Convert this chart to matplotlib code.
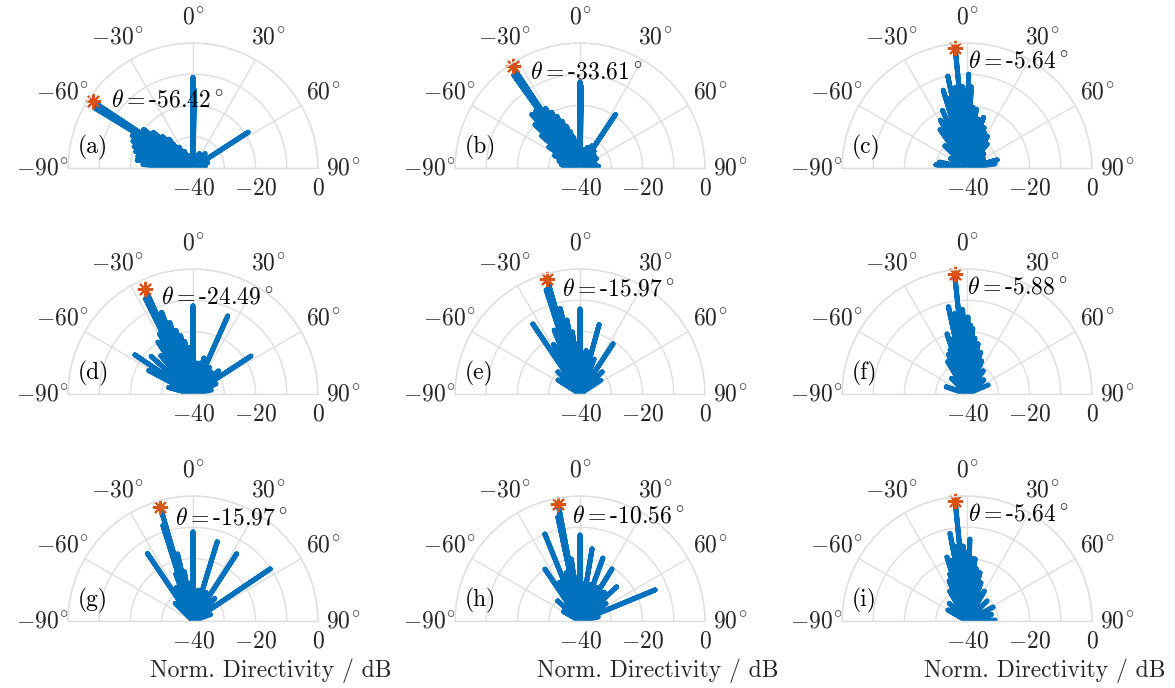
import matplotlib
matplotlib.use("Agg")
import matplotlib.pyplot as plt
import numpy as np

plt.rcParams["font.family"] = "serif"
plt.rcParams["font.serif"] = ["cmr10"]
plt.rcParams["mathtext.fontset"] = "cm"
plt.rcParams["axes.formatter.use_mathtext"] = True

# lobe directions (deg) and lobe peak levels (dB) per panel
angles_a = [-86, -82, -78, -74, -70, -66, -62, -58.5, -56.42, -52, -48, -44, -40, -34, -28, -20, -12, -4, 0, 1, 10, 24, 40, 57, 70, 84]
peaks_a = [-24, -22, -22, -21, -20, -19, -18, -3.5, -1.5, -20, -23, -26, -28, -32, -34, -36, -36, -37, -11, -15, -36, -35, -34, -19, -35, -36]

angles_b = [-88, -80, -72, -64, -56, -50, -46, -42, -38, -35.5, -33.61, -30, -27, -24, -21, -18, -15, -12, -8, -4, 0, 1, 6, 12, 20, 28, 33.5, 40, 50, 60, 72, 84]
peaks_b = [-35, -34, -33, -31, -28, -24, -20, -17, -17, -3.5, -1, -18, -20, -22, -24, -26, -28, -30, -33, -34, -12.5, -14, -34, -34, -33, -32, -19.5, -33, -34, -34, -35, -34]

angles_c = [-84, -78, -60, -45, -35, -29, -23, -17, -14, -11.8, -8, -5.64, -3, 1, 3, 5.6, 9, 13, 18, 23, 27, 33, 40, 50, 62, 75, 82]
peaks_c = [-30, -31, -34, -30, -25, -22.5, -20, -14, -17, -10, -14, -1.5, -14, -10, -14, -20.5, -21, -24, -23, -26, -27.5, -28, -30, -33, -34, -30, -31]

angles_d = [-75, -62, -56, -48, -40, -34, -29, -26.5, -24.49, -21, -18, -15, -12, -9, -6, -3, 0, 4, 10, 17, 24, 32, 40, 48, 56.8, 66, 78]
peaks_d = [-32, -24, -17.6, -22, -24, -20, -18, -6, -3, -12, -16, -19, -21, -23, -25, -27, -11.8, -30, -30, -28, -12.7, -30, -31, -29, -17.9, -32, -34]

angles_e = [-57.5, -45, -34, -28, -22, -18, -15.97, -13, -10, -7, -4, -2, 0, 4, 8, 15.4, 22, 33.4, 45, 57]
peaks_e = [-31.7, -30, -13, -22, -18, -5, -1.6, -12, -16, -20, -24, -27, -12.8, -28, -26, -17, -28, -20.8, -30, -32]

angles_f = [-71, -45, -30.7, -25, -21, -18.4, -15, -12, -9, -5.88, -3, 0.7, 3, 5, 8, 12.4, 18, 24, 35, 50, 67]
peaks_f = [-33, -33, -28, -26, -25, -19.8, -22, -11.5, -14, -1.5, -13, -15.4, -18, -19, -22, -23.6, -26, -28.5, -31, -33, -32.6]

angles_g = [-45, -34, -26, -20, -17.5, -15.97, -13, -10, -6, -3, 0, 4, 10, 17, 25, 33, 44, 56, 70]
peaks_g = [-32, -14, -28, -24, -8, -2.2, -18, -24, -28, -30, -11.5, -32, -30, -13.5, -30, -14.4, -30, -10.2, -34]

angles_h = [-60, -48, -34, -28, -22, -16, -12, -10.56, -8, -4, 0, 5, 9.5, 15, 20, 26, 31.6, 40, 47, 56, 67.5, 78]
peaks_h = [-34, -30.4, -20, -26, -10, -24, -6, -1.9, -20, -26, -12.5, -28, -16.6, -28, -18.6, -28, -20.5, -28, -24, -30, -14, -34]

angles_i = [-60, -45, -30, -24, -20, -17.4, -14, -11, -8, -5.64, -3, 0, 2, 5, 7.4, 10, 15, 20, 30, 45, 62, 75, 88]
peaks_i = [-33, -32, -29, -26, -24, -18.6, -20, -11.5, -16, -1.5, -16, -18, -13.8, -20, -20, -23, -24, -27, -29, -31, -30.6, -32, -31]

panel_labels = ["(a)", "(b)", "(c)", "(d)", "(e)", "(f)", "(g)", "(h)", "(i)"]
theta_ticks = [-90, -60, -30, 0, 30, 60, 90]
r_ticks = [-40, -30, -20, -10, 0]
r_labels = [-40, -20, 0]
r_floor = -40

panels = [(angles_a, peaks_a), (angles_b, peaks_b), (angles_c, peaks_c),
          (angles_d, peaks_d), (angles_e, peaks_e), (angles_f, peaks_f),
          (angles_g, peaks_g), (angles_h, peaks_h), (angles_i, peaks_i)]

W, H = 1175, 688
R = 125
col_cx = [193, 580, 967]
row_cy = [168, 394, 621]
blue = "#0072BD"
orange = "#D95319"
gridc = "#DEDEDE"
tickc = "#262626"
fs = 17

fig = plt.figure(figsize=(W / 100, H / 100), dpi=100)

for k, (ang, pk) in enumerate(panels):
    row, col = divmod(k, 3)
    cx, cy = col_cx[col], row_cy[row]
    # square box; the half disc sits in its middle band
    ax = fig.add_axes([(cx - R) / W, (H - cy - R / 2) / H, 2 * R / W, 2 * R / H], projection="polar")
    ax.set_theta_zero_location("N")
    ax.set_theta_direction(-1)
    ax.set_thetamin(-90)
    ax.set_thetamax(90)
    ax.set_rlim(r_floor, 0)

    # each lobe: out from the centre to its peak and back
    th = np.repeat(np.deg2rad(ang), 2)
    rr = np.ravel(np.column_stack([np.full(len(pk), r_floor), pk]))
    ax.plot(th, rr, color=blue, lw=3.6, solid_capstyle="round", solid_joinstyle="round")

    i = int(np.argmax(pk))
    ax.plot(np.deg2rad(ang[i]), pk[i], ls="none", marker=(8, 2, 0), ms=11, mew=1.5, color=orange, clip_on=False)
    ax.text(np.deg2rad(ang[i] + 6), pk[i] - 4.5, r"$\theta=$" + f"{ang[i]:.2f}" + r"$^\circ$",
            fontsize=fs, ha="left", va="center", color="black")

    ax.set_thetagrids(theta_ticks, [rf"${t}^{{\!\circ}}$" for t in theta_ticks], fontsize=fs, color=tickc)
    ax.tick_params(axis="x", pad=8)
    ax.set_rticks(r_ticks)
    ax.set_yticklabels([])
    for rv in r_labels:
        ax.annotate(f"${rv}$", xy=(np.pi / 2, rv), xytext=(0, -15), textcoords="offset points",
                    ha="center", va="center", fontsize=fs, color=tickc, annotation_clip=False)
    ax.grid(True, color=gridc, lw=1.0)
    for sp in ax.spines.values():
        sp.set_color(gridc)
        sp.set_linewidth(1.0)

    ax.text(0.04, 0.334, panel_labels[k], transform=ax.transAxes, fontsize=fs, ha="left", va="center")
    if row == 2:
        ax.text(0.81, 0.05, "Norm. Directivity / dB", transform=ax.transAxes, fontsize=fs,
                ha="center", va="center", color=tickc)

fig.savefig("out.png", dpi=100)
